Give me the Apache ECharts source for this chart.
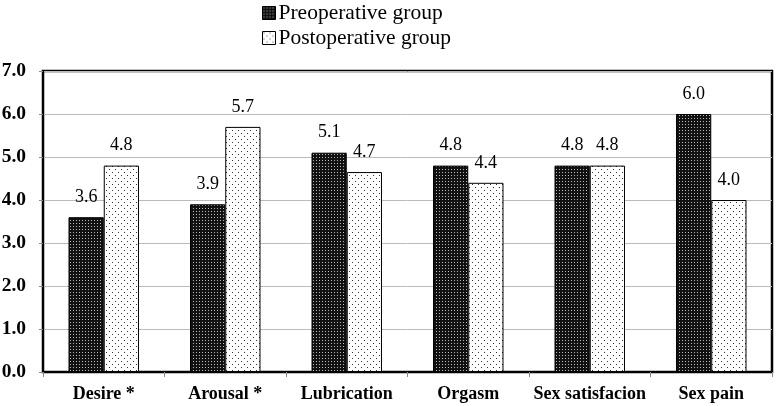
<!DOCTYPE html>
<html><head><meta charset="utf-8">
<script src="https://cdn.jsdelivr.net/npm/echarts@6/dist/echarts.min.js"></script>
<style>html,body{margin:0;padding:0;background:#fff}#c{width:777px;height:406px}</style>
</head><body><div id="c"></div>
<script>
var categories = ['Desire *', 'Arousal *', 'Lubrication', 'Orgasm', 'Sex satisfacion', 'Sex pain'];
var preValues = [3.6, 3.9, 5.1, 4.8, 4.8, 6.0];
var postValues = [4.8, 5.7, 4.65, 4.4, 4.8, 4.0];
var preLabels = ['3.6', '3.9', '5.1', '4.8', '4.8', '6.0'];
var postLabels = ['4.8', '5.7', '4.7', '4.4', '4.8', '4.0'];
var seriesNames = ['Preoperative group', 'Postoperative group'];
var yTicks = [0, 1, 2, 3, 4, 5, 6, 7];

function makePattern(bg, fg, size, dots) {
  var c = document.createElement('canvas');
  c.width = size; c.height = size;
  var g = c.getContext('2d');
  g.fillStyle = bg; g.fillRect(0, 0, size, size);
  g.fillStyle = fg;
  dots.forEach(function (d) { g.fillRect(d[0], d[1], 1, 1); });
  return c;
}
var darkPat = makePattern('#111', '#bbb', 3, [[1, 1]]);
var lightPat = makePattern('#fff', '#333', 6, [[1, 1], [4, 4]]);

var chart = echarts.init(document.getElementById('c'));
var serif = '"Liberation Serif", "DejaVu Serif", serif';
function labelFn(arr) { return function (p) { return arr[p.dataIndex]; }; }
chart.setOption({
  animation: false,
  legend: {
    orient: 'vertical', left: 262, top: 2, itemGap: 3, padding: 0,
    itemWidth: 13, itemHeight: 13, icon: 'rect',
    textStyle: { fontFamily: serif, fontSize: 21.5, color: '#000', padding: [0, 0, 0, -2] },
    data: [
      { name: seriesNames[0], itemStyle: { color: { image: darkPat, repeat: 'repeat' }, borderColor: '#000', borderWidth: 1 } },
      { name: seriesNames[1], itemStyle: { color: { image: lightPat, repeat: 'repeat' }, borderColor: '#000', borderWidth: 1 } }
    ]
  },
  grid: { left: 43, right: 5, top: 71, bottom: 34, outerBoundsMode: 'none', containLabel: false,
    show: true, borderColor: '#000', borderWidth: 2.5, backgroundColor: 'transparent' },
  xAxis: {
    type: 'category', data: categories,
    axisLine: { lineStyle: { color: '#000', width: 2 } },
    axisTick: { show: true, length: 5, lineStyle: { color: '#888' } },
    axisLabel: { interval: 0, fontFamily: serif, fontWeight: 'bold', fontSize: 18, color: '#000', margin: 13 }
  },
  yAxis: {
    type: 'value', min: 0, max: 7, interval: 1,
    axisLine: { show: true, lineStyle: { color: '#000', width: 2 } },
    axisTick: { show: true, length: 4, lineStyle: { color: '#888' } },
    splitLine: { lineStyle: { color: '#bbb', width: 1 } },
    axisLabel: { fontFamily: serif, fontWeight: 'bold', fontSize: 19.5, color: '#000', margin: 17,
      formatter: function (v) { return v.toFixed(1); } }
  },
  series: [
    { name: seriesNames[0], type: 'bar', data: preValues, barGap: '0%', barCategoryGap: '42%',
      itemStyle: { color: { image: darkPat, repeat: 'repeat' }, borderColor: '#000', borderWidth: 1 },
      label: { show: true, position: 'top', distance: 11, formatter: labelFn(preLabels),
        fontFamily: serif, fontSize: 18, color: '#000' } },
    { name: seriesNames[1], type: 'bar', data: postValues,
      itemStyle: { color: { image: lightPat, repeat: 'repeat' }, borderColor: '#000', borderWidth: 1 },
      label: { show: true, position: 'top', distance: 11, formatter: labelFn(postLabels),
        fontFamily: serif, fontSize: 18, color: '#000' } }
  ]
});
</script></body></html>
